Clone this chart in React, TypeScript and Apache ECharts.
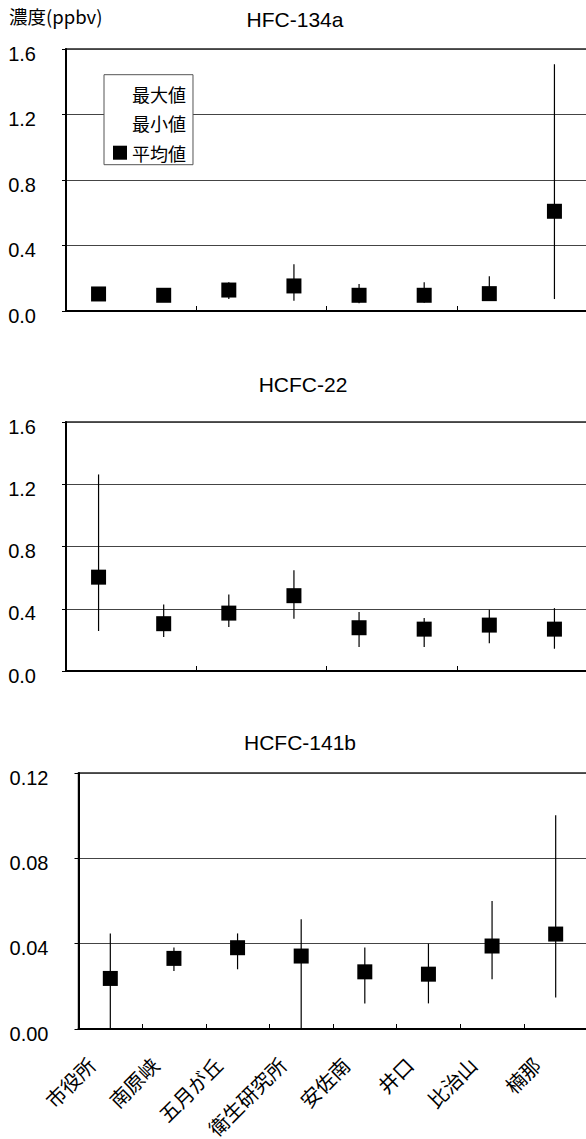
import React, { useEffect, useRef } from "react";
import * as echarts from "echarts";

const categories = ["市役所", "南原峡", "五月が丘", "衛生研究所", "安佐南", "井口", "比治山", "楠那"];

const hfc134aAvg = [0.104, 0.096, 0.128, 0.153, 0.096, 0.096, 0.106, 0.609];
const hfc134aMax = [0.12, 0.11, 0.175, 0.285, 0.165, 0.175, 0.212, 1.507];
const hfc134aMin = [0.085, 0.06, 0.073, 0.062, 0.047, 0.05, 0.062, 0.073];

const hcfc22Avg = [0.603, 0.304, 0.372, 0.484, 0.278, 0.269, 0.295, 0.269];
const hcfc22Max = [1.263, 0.428, 0.492, 0.648, 0.379, 0.34, 0.394, 0.404];
const hcfc22Min = [0.257, 0.218, 0.282, 0.336, 0.154, 0.154, 0.179, 0.143];

const hcfc141bAvg = [0.0237, 0.0331, 0.0381, 0.0342, 0.0268, 0.0257, 0.0389, 0.0445];
const hcfc141bMax = [0.0448, 0.0382, 0.0448, 0.0515, 0.0382, 0.04, 0.06, 0.1002];
const hcfc141bMin = [0.0, 0.0272, 0.028, 0.0, 0.012, 0.012, 0.0233, 0.0148];

const chartTitles = ["HFC-134a", "HCFC-22", "HCFC-141b"];
const yTicks1 = { min: 0, max: 1.6, interval: 0.4, digits: 1 };
const yTicks3 = { min: 0, max: 0.12, interval: 0.04, digits: 2 };
const unitLabel = "濃度(ppbv)";

const CJK = "Noto Sans CJK JP";
const LAT = "Liberation Sans";

const whisker = (params: any, api: any) => {
  const x = api.value(0);
  const p1 = api.coord([x, api.value(1)]);
  const p2 = api.coord([x, api.value(2)]);
  return {
    type: "line",
    shape: { x1: p1[0], y1: p1[1], x2: p2[0], y2: p2[1] },
    style: { stroke: "#000", lineWidth: 1.2 },
  };
};

export default function App() {
  const ref = useRef<HTMLDivElement>(null);
  useEffect(() => {
    if (!ref.current) return;
    const chart = echarts.init(ref.current, undefined, { renderer: "svg" });

    const sets = [
      { avg: hfc134aAvg, max: hfc134aMax, min: hfc134aMin, y: yTicks1 },
      { avg: hcfc22Avg, max: hcfc22Max, min: hcfc22Min, y: yTicks1 },
      { avg: hcfc141bAvg, max: hcfc141bMax, min: hcfc141bMin, y: yTicks3 },
    ];

    const grids = [
      { left: 66, right: -1, top: 49, height: 262 },
      { left: 66, right: -1, top: 422, height: 249 },
      { left: 78.5, right: -1.5, top: 773, height: 256 },
    ].map((g) => ({
      ...g,
      show: true,
      borderColor: "#222",
      borderWidth: 1.5,
      containLabel: false,
      outerBoundsMode: "none",
    }));

    const xAxis = sets.map((_, i) => ({
      type: "category",
      gridIndex: i,
      data: categories,
      boundaryGap: true,
      axisLine: { lineStyle: { color: "#000", width: 2 } },
      axisTick: { show: true, inside: true, length: 5, lineStyle: { color: "#000", width: 1 } },
      axisLabel:
        i === 2
          ? {
              show: true,
              interval: 0,
              rotate: 45,
              margin: 13,
              fontSize: 20,
              fontFamily: CJK,
              color: "#000",
              padding: [0, 27, 0, 0],
            }
          : { show: false },
      splitLine: { show: false },
    }));

    const yAxis = sets.map((s, i) => ({
      type: "value",
      gridIndex: i,
      min: s.y.min,
      max: s.y.max,
      interval: s.y.interval,
      axisLine: { show: true, lineStyle: { color: "#000", width: 2 } },
      axisTick: { show: true, length: 4, lineStyle: { color: "#000", width: 1 } },
      axisLabel: {
        formatter: (v: number) => v.toFixed(s.y.digits),
        fontSize: 20,
        fontFamily: LAT,
        color: "#000",
        margin: 30,
        verticalAlign: "top",
        lineHeight: 9,
      },
      splitLine: { show: true, lineStyle: { color: "#444", width: 1 } },
    }));

    const series: any[] = [];
    sets.forEach((s, i) => {
      series.push({
        name: "最大値",
        type: "custom",
        xAxisIndex: i,
        yAxisIndex: i,
        renderItem: whisker,
        encode: { x: 0, y: [1, 2] },
        itemStyle: { color: "#000" },
        data: categories.map((_, j) => [j, s.avg[j], s.max[j]]),
        z: 3,
      });
      series.push({
        name: "最小値",
        type: "custom",
        xAxisIndex: i,
        yAxisIndex: i,
        renderItem: whisker,
        encode: { x: 0, y: [1, 2] },
        itemStyle: { color: "#000" },
        data: categories.map((_, j) => [j, s.avg[j], s.min[j]]),
        z: 3,
      });
      series.push({
        name: "平均値",
        type: "scatter",
        xAxisIndex: i,
        yAxisIndex: i,
        symbol: "rect",
        symbolSize: 15,
        itemStyle: { color: "#000", opacity: 1 },
        data: s.avg,
        z: 4,
      });
    });

    const titleCenters = [
      [295, 19.5],
      [303, 384],
      [300, 742.5],
    ];

    chart.setOption({
      animation: false,
      backgroundColor: "#fff",
      title: chartTitles.map((t, i) => ({
        text: t,
        left: titleCenters[i][0] - 5,
        top: titleCenters[i][1] - 5,
        textAlign: "center",
        textVerticalAlign: "middle",
        textStyle: { fontFamily: LAT, fontSize: 21, fontWeight: "normal", color: "#000" },
      })),
      legend: {
        left: 104,
        top: 74.7,
        orient: "vertical",
        align: "left",
        selectedMode: false,
        itemWidth: 14,
        itemHeight: 14,
        itemGap: 11.5,
        padding: [10, 7, 3, 9],
        backgroundColor: "#fff",
        borderColor: "#555",
        borderWidth: 1,
        borderRadius: 0,
        textStyle: { fontFamily: CJK, fontSize: 18, lineHeight: 18, color: "#000" },
        data: [
          { name: "最大値", icon: "rect", itemStyle: { opacity: 0 } },
          { name: "最小値", icon: "rect", itemStyle: { opacity: 0 } },
          { name: "平均値", icon: "rect", itemStyle: { color: "#000" } },
        ],
        z: 10,
      },
      graphic: [
        {
          type: "text",
          left: 9,
          top: 7,
          style: { text: unitLabel, fontFamily: CJK, fontSize: 18.5, fill: "#000" },
        },
      ],
      grid: grids,
      xAxis,
      yAxis,
      series,
    });
    return () => chart.dispose();
  }, []);
  return (
    <div
      ref={ref}
      style={{ position: "absolute", left: 0, top: 0, width: 586, height: 1139, background: "#fff" }}
    />
  );
}
